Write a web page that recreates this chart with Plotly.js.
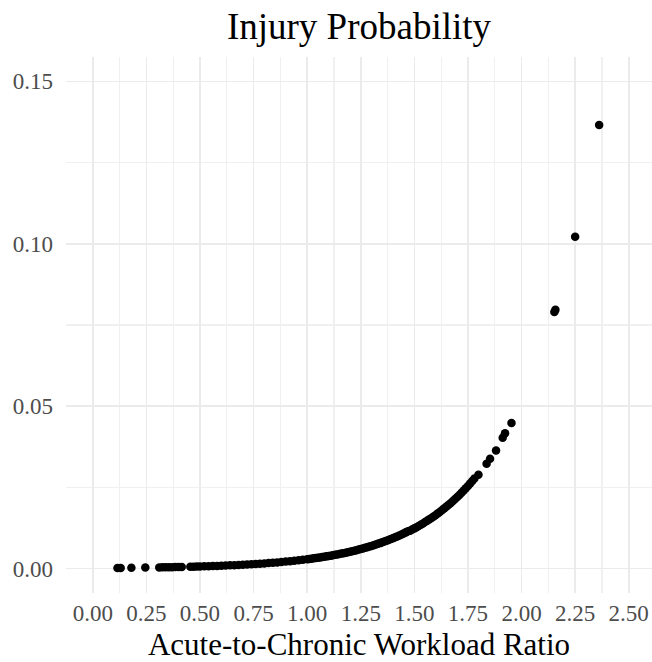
<!DOCTYPE html>
<html>
<head>
<meta charset="utf-8">
<script src="https://cdn.plot.ly/plotly-3.0.1.min.js"></script>
<style>html,body{margin:0;padding:0;background:#fff;}#chart{width:652px;height:662px;}</style>
</head>
<body>
<div id="chart"></div>
<script>
// Acute-to-Chronic Workload Ratio (x) and injury probability (y)
const acwr = [
  0.115, 0.13, 0.18, 0.245, 0.31, 0.325, 0.34, 0.355, 0.37, 0.385, 0.40, 0.415,
  0.455, 0.47, 0.485, 0.50,
  0.52, 0.54, 0.56, 0.58, 0.60, 0.62, 0.64, 0.66, 0.68, 0.70, 0.72, 0.74, 0.76, 0.78,
  0.80, 0.82, 0.84, 0.86, 0.88, 0.90, 0.92, 0.94, 0.96, 0.98, 1.00, 1.02, 1.04, 1.06,
  1.08, 1.10, 1.12, 1.14, 1.16, 1.18, 1.20, 1.22, 1.24, 1.26, 1.28, 1.30, 1.32, 1.34,
  1.36, 1.38, 1.40, 1.42, 1.44, 1.46, 1.48, 1.50, 1.52, 1.54, 1.56, 1.58, 1.60, 1.62,
  1.64, 1.66, 1.68, 1.70, 1.72, 1.74, 1.76, 1.78,
  1.01, 1.03, 1.05, 1.07, 1.09, 1.11, 1.13, 1.15, 1.17, 1.19, 1.21, 1.23, 1.25, 1.27,
  1.29, 1.31, 1.33, 1.35, 1.37, 1.39, 1.41, 1.43, 1.45, 1.47, 1.49, 1.51, 1.53, 1.55,
  1.57, 1.59, 1.61, 1.63, 1.65, 1.67, 1.69, 1.71, 1.73, 1.75, 1.77,
  1.799, 1.837, 1.853, 1.881, 1.912, 1.923, 1.953, 2.153, 2.158, 2.25, 2.362
];
const injuryProb = [
  0.000217, 0.000227, 0.000262, 0.000318, 0.000384, 0.000401, 0.000419, 0.000438, 0.000458, 0.000478, 0.000500, 0.000522,
  0.000587, 0.000614, 0.000641, 0.000670,
  0.000711, 0.000754, 0.000799, 0.000847, 0.000898, 0.000953, 0.001010, 0.001071, 0.001136, 0.001204, 0.001277, 0.001354, 0.001436, 0.001522,
  0.001614, 0.001712, 0.001815, 0.001924, 0.002040, 0.002164, 0.002294, 0.002433, 0.002579, 0.002735, 0.002900, 0.003075, 0.003261, 0.003458,
  0.003666, 0.003888, 0.004122, 0.004371, 0.004635, 0.004915, 0.005211, 0.005526, 0.005859, 0.006213, 0.006588, 0.006985, 0.007407, 0.007854,
  0.008328, 0.008831, 0.009364, 0.009929, 0.010528, 0.011163, 0.011699, 0.012396, 0.013134, 0.013916, 0.014743, 0.015619, 0.016546, 0.017527,
  0.018566, 0.019664, 0.020826, 0.022056, 0.023356, 0.024730, 0.026184, 0.027721,
  0.002986, 0.003166, 0.003358, 0.003561, 0.003775, 0.004004, 0.004245, 0.004501, 0.004773, 0.005061, 0.005366, 0.005690, 0.006033, 0.006398,
  0.006784, 0.007193, 0.007627, 0.008088, 0.008576, 0.009094, 0.009642, 0.010224, 0.010841, 0.011495, 0.012050, 0.012760, 0.013518, 0.014322,
  0.015174, 0.016075, 0.017029, 0.018039, 0.019108, 0.020238, 0.021434, 0.022700, 0.024037, 0.025451, 0.026943,
  0.0289, 0.0323, 0.0338, 0.0364, 0.0403, 0.0417, 0.0448, 0.0790, 0.0797, 0.1022, 0.1366
];
const xTickVals = [0, 0.25, 0.5, 0.75, 1, 1.25, 1.5, 1.75, 2, 2.25, 2.5];
const xTickText = ["0.00","0.25","0.50","0.75","1.00","1.25","1.50","1.75","2.00","2.25","2.50"];
const yTickVals = [0, 0.05, 0.10, 0.15];
const yTickText = ["0.00","0.05","0.10","0.15"];

const serif = "Liberation Serif, DejaVu Serif, serif";
const trace = {
  x: acwr, y: injuryProb, type: "scatter", mode: "markers",
  marker: {color: "#000000", size: 8.5, line: {width: 0}},
  hoverinfo: "skip", showlegend: false
};
const layout = {
  width: 652, height: 662,
  margin: {l: 66, r: 0, t: 57, b: 69, pad: 0},
  paper_bgcolor: "#ffffff", plot_bgcolor: "#ffffff",
  title: {text: "Injury Probability", font: {family: serif, size: 37, color: "#000000"},
          x: 0.5, xref: "paper", xanchor: "center", y: 0.96, yref: "container", yanchor: "middle"},
  xaxis: {
    range: [-0.125, 2.6085], tickmode: "array", tickvals: xTickVals, ticktext: xTickText,
    showgrid: true, gridcolor: "#ebebeb", gridwidth: 1.6, zeroline: false, showline: false,
    ticks: "", ticklabelstandoff: 4,
    tickfont: {family: serif, size: 23, color: "#4d4d4d"},
    minor: {tickmode: "array", tickvals: [-0.125,0.125,0.375,0.625,0.875,1.125,1.375,1.625,1.875,2.125,2.375,2.625], showgrid: true, gridcolor: "#f0f0f0", gridwidth: 1.3},
    title: {text: "Acute-to-Chronic Workload Ratio", font: {family: serif, size: 31, color: "#000000"}, standoff: 8}
  },
  yaxis: {
    range: [-0.0075, 0.1575], tickmode: "array", tickvals: yTickVals, ticktext: yTickText,
    showgrid: true, gridcolor: "#ebebeb", gridwidth: 1.6, zeroline: false, showline: false,
    ticks: "", ticklabelstandoff: 12,
    tickfont: {family: serif, size: 23, color: "#4d4d4d"},
    minor: {tickmode: "array", tickvals: [0.025, 0.075, 0.125], showgrid: true, gridcolor: "#f0f0f0", gridwidth: 1.3}
  }
};
Plotly.newPlot("chart", [trace], layout, {displayModeBar: false, staticPlot: true});
</script>
</body>
</html>
